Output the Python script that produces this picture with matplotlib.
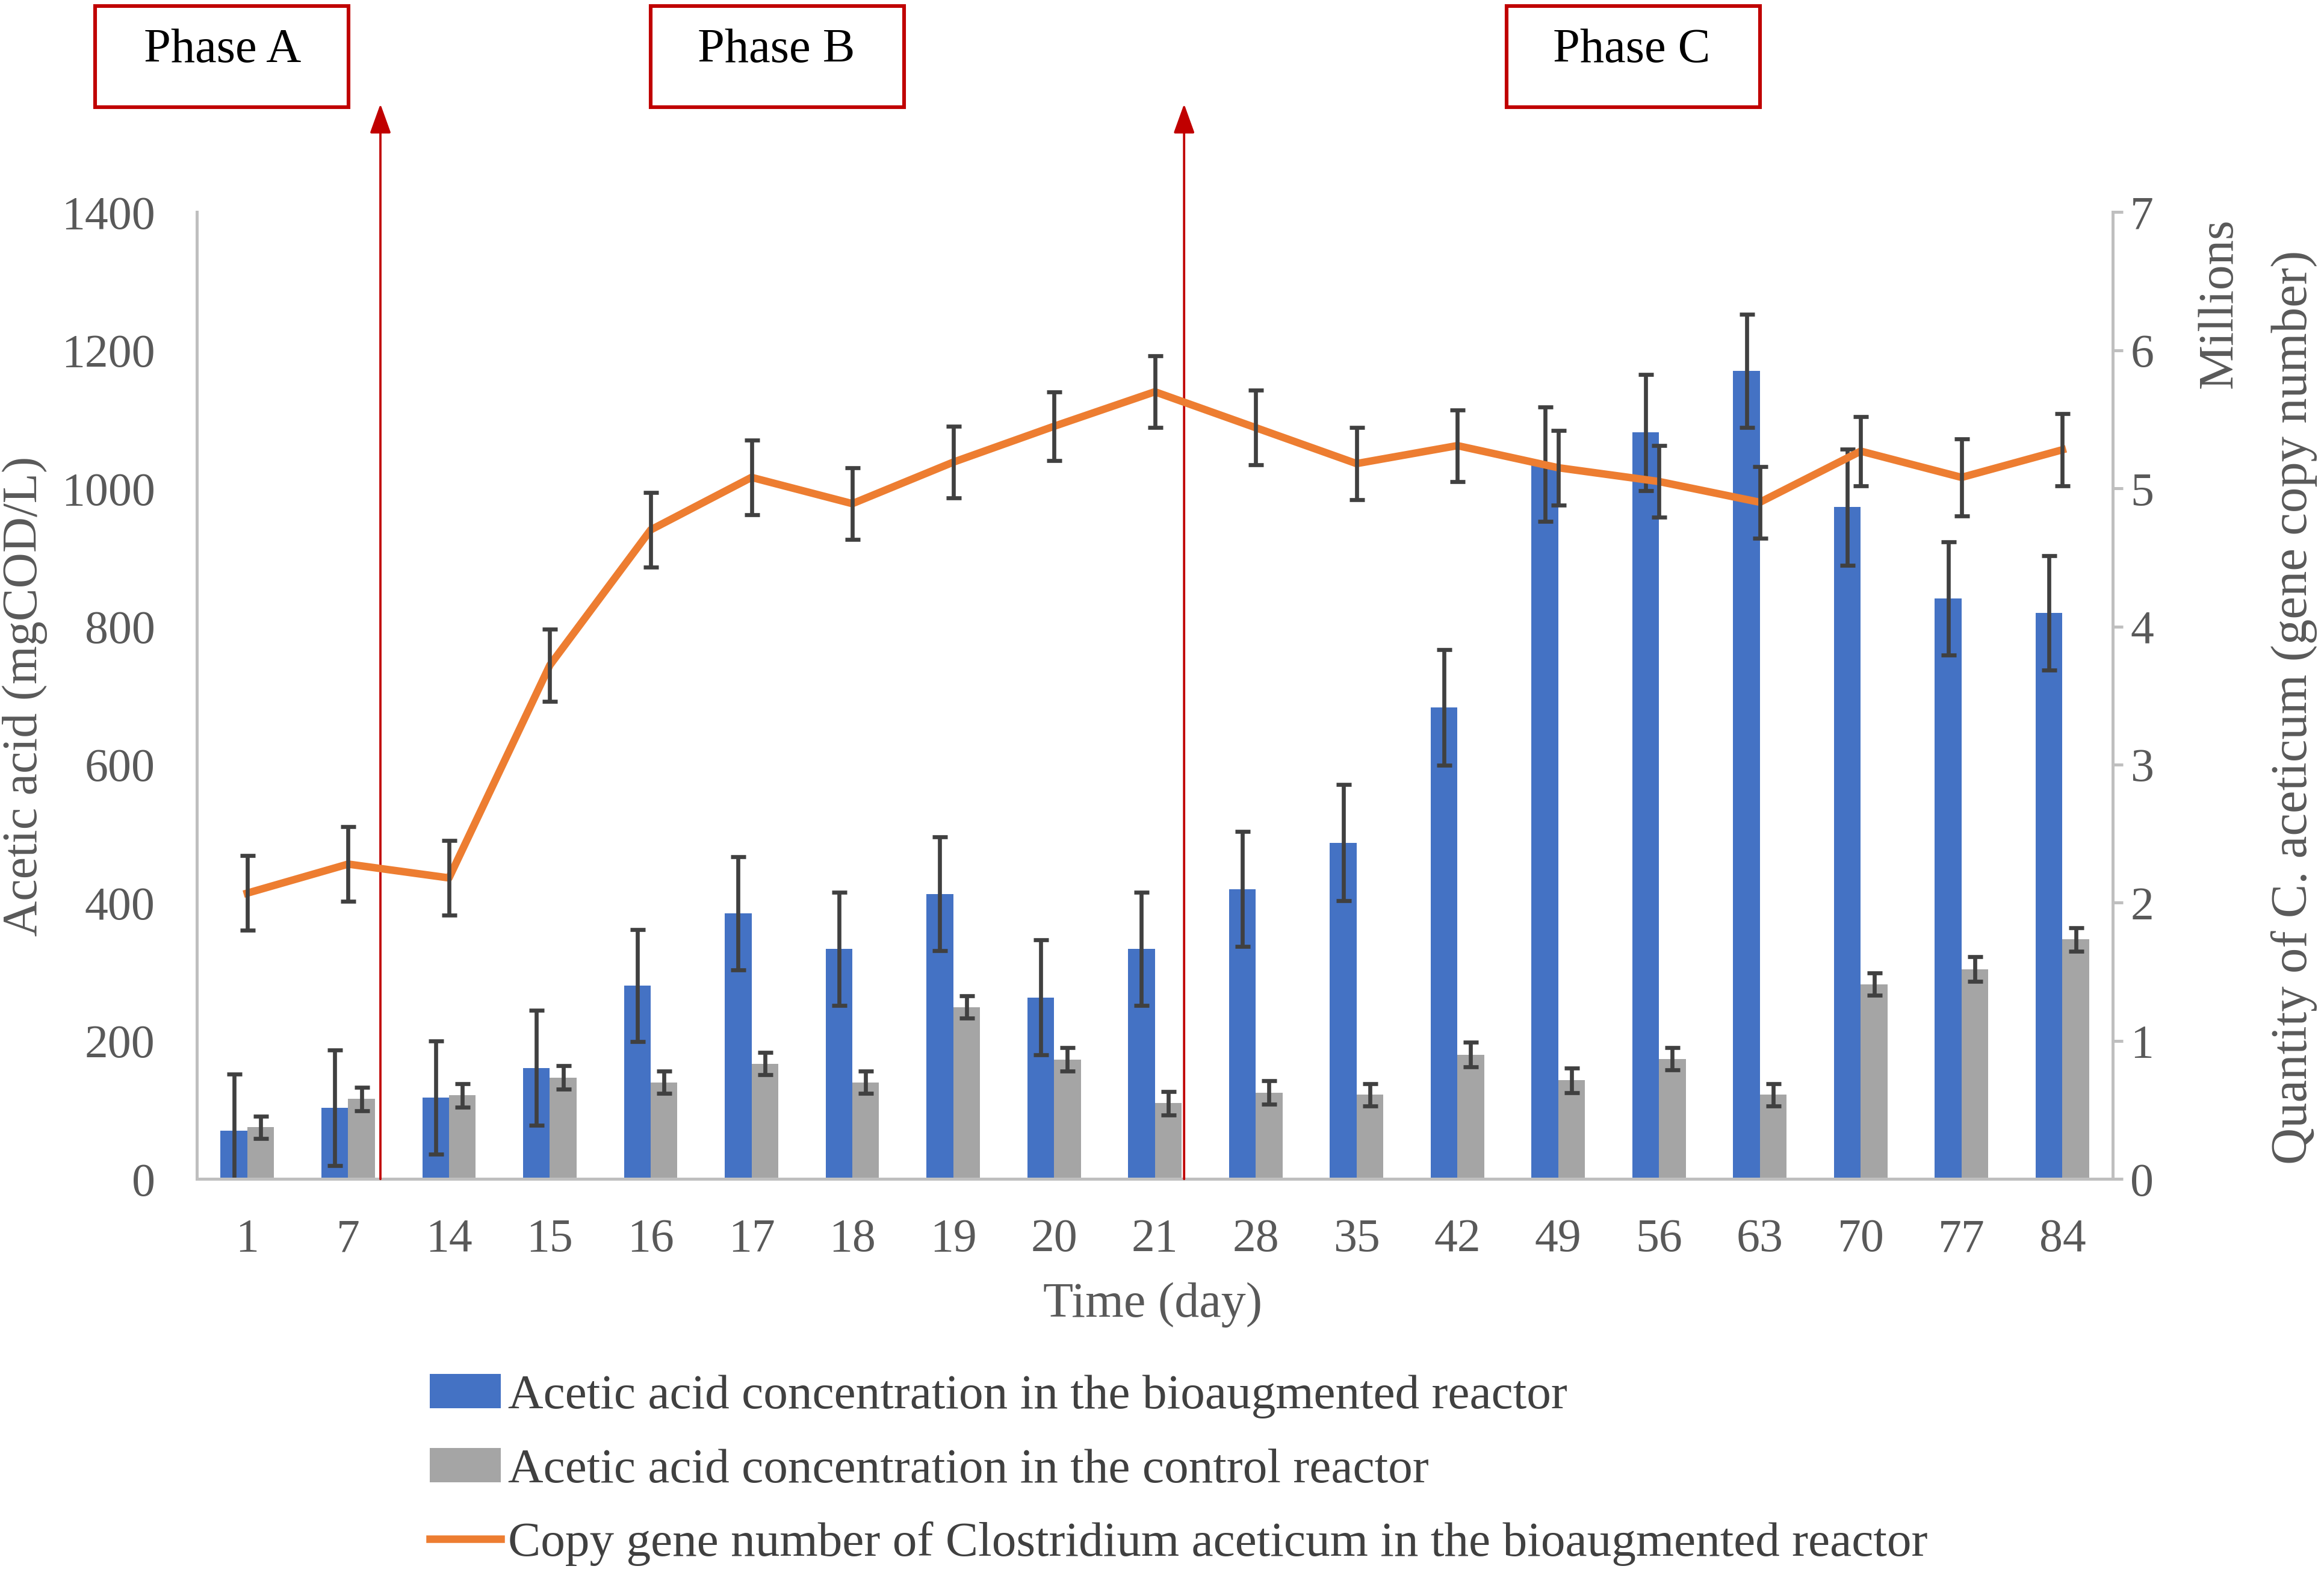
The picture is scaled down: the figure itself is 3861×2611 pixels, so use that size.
import numpy as np
import matplotlib
matplotlib.use('Agg')
import matplotlib.pyplot as plt
from matplotlib.patches import Rectangle

plt.rcParams['font.family'] = ['Liberation Serif', 'DejaVu Serif']

days = ['1', '7', '14', '15', '16', '17', '18', '19', '20', '21',
        '28', '35', '42', '49', '56', '63', '70', '77', '84']
bio_acetic = [70, 103, 118, 161, 280, 385, 333, 413, 263, 333,
              420, 487, 683, 1035, 1081, 1170, 973, 841, 820]
bio_err = [82, 84, 82, 83, 81, 82, 82, 82, 83, 82,
           83, 84, 84, 83, 84, 82, 84, 82, 83]
ctrl_acetic = [75, 116, 121, 147, 140, 167, 140, 249, 173, 110,
               125, 122, 180, 143, 174, 122, 282, 304, 347]
ctrl_err = [16, 17, 17, 17, 16, 16, 16, 16, 17, 17,
            17, 16, 18, 18, 16, 16, 16, 18, 17]
# gene copies, millions
copies = [2.07, 2.28, 2.18, 3.72, 4.70, 5.08, 4.89, 5.19, 5.45, 5.70,
          5.44, 5.18, 5.31, 5.15, 5.05, 4.90, 5.27, 5.08, 5.28]
copies_err = [0.27, 0.27, 0.27, 0.26, 0.27, 0.27, 0.26, 0.26, 0.25, 0.26,
              0.27, 0.26, 0.26, 0.27, 0.26, 0.26, 0.25, 0.28, 0.26]
phase_names = ['Phase A', 'Phase B', 'Phase C']
phase_bounds = [1.32, 9.29]

BLUE = '#4472C4'
GREY = '#A5A5A5'
ORANGE = '#ED7D31'
RED = '#C00000'
ERR = '#404040'
AXC = '#BFBFBF'
TXT = '#595959'

fig = plt.figure(figsize=(38.62, 26.11), dpi=100)
ax = fig.add_axes([0.0847, 0.250, 0.8242, 0.615])
ax2 = ax.twinx()

x = np.arange(len(days))
w = 0.265
ekw = dict(ecolor=ERR, elinewidth=4.8, capsize=9, capthick=4.8)
b1 = ax.bar(x - w / 2, bio_acetic, w, color=BLUE, yerr=bio_err, error_kw=ekw, zorder=2)
b2 = ax.bar(x + w / 2, ctrl_acetic, w, color=GREY, yerr=ctrl_err, error_kw=ekw, zorder=2)
ln, = ax2.plot(x, copies, color=ORANGE, lw=9, zorder=3)
ax2.errorbar(x, copies, yerr=copies_err, fmt='none', **ekw, zorder=4)

ax.set_xlim(-0.5, len(days) - 0.5)
ax.set_ylim(0, 1400)
ax.set_yticks(range(0, 1401, 200))
ax2.set_ylim(0, 7)
ax2.set_yticks(range(0, 8))
ax.set_xticks(x)
ax.set_xticklabels(days)

for s in ['top', 'right']:
    ax.spines[s].set_visible(False)
for s in ['top', 'left', 'bottom']:
    ax2.spines[s].set_visible(False)
for sp in [ax.spines['left'], ax.spines['bottom'], ax2.spines['right']]:
    sp.set_color(AXC)
    sp.set_linewidth(3.6)

ax.tick_params(axis='y', length=0, pad=50, labelsize=56, labelcolor=TXT)
ax.tick_params(axis='x', length=0, pad=47, labelsize=56, labelcolor=TXT)
ax2.tick_params(axis='y', length=12, width=3.6, color=AXC, pad=9, labelsize=56, labelcolor=TXT)

# phase boundary arrows
for pb in phase_bounds:
    ax.annotate('', xy=(pb, 1.112), xytext=(pb, 0),
                xycoords=('data', 'axes fraction'), annotation_clip=False,
                arrowprops=dict(arrowstyle='-|>,head_length=1.0,head_width=0.36',
                                color=RED, lw=2.7, mutation_scale=30,
                                shrinkA=0, shrinkB=0))

# phase boxes
boxes = [(0.0408, 0.0957), (0.280, 0.334), (0.648, 0.702)]
for name, (bx, tx) in zip(phase_names, boxes):
    fig.add_artist(Rectangle((bx, 0.932), 0.109, 0.064, transform=fig.transFigure,
                             fill=False, edgecolor=RED, lw=4.4))
    fig.text(tx, 0.968, name, ha='center', va='center', fontsize=58, color='black')

fig.text(0.0108, 0.557, 'Acetic acid (mgCOD/L)', rotation=90, ha='center', va='center',
         fontsize=59, color=TXT)
fig.text(0.987, 0.55, 'Quantity of C. aceticum (gene copy number)', rotation=90,
         ha='center', va='center', fontsize=61, color=TXT)
fig.text(0.955, 0.807, 'Millions', rotation=90, ha='center', va='center',
         fontsize=60, color=TXT)
fig.text(0.496, 0.170, 'Time (day)', ha='center', va='center', fontsize=59, color=TXT)

fig.legend([b1.patches[0], b2.patches[0], ln],
           ['Acetic acid concentration in the bioaugmented reactor',
            'Acetic acid concentration in the control reactor',
            'Copy gene number of Clostridium aceticum in the bioaugmented reactor'],
           loc='upper left', bbox_to_anchor=(0.185, 0.126), frameon=False,
           fontsize=58.5, labelcolor='#404040', handlelength=1.45, handletextpad=0.15,
           labelspacing=0.6, borderpad=0, borderaxespad=0)

fig.savefig('out.png', dpi=100)
